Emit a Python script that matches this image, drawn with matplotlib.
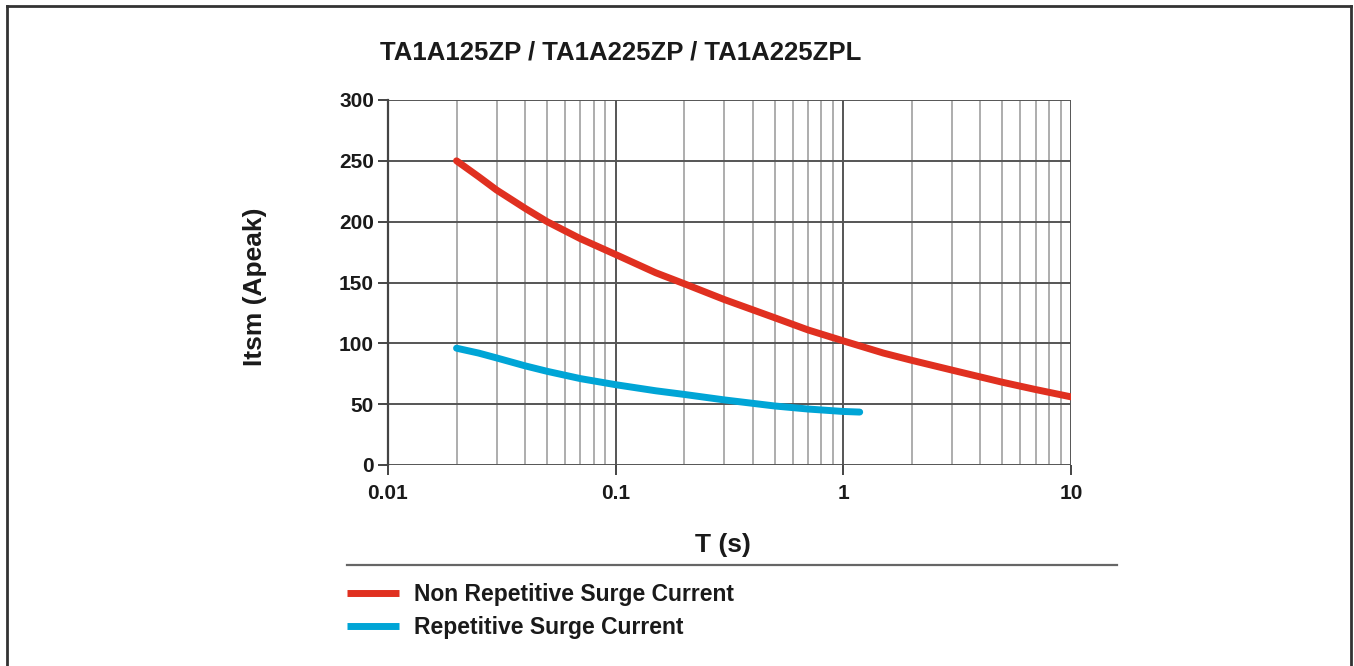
import matplotlib
matplotlib.use("Agg")
import matplotlib.pyplot as plt
from matplotlib.lines import Line2D
from matplotlib.ticker import LogLocator, FixedLocator, NullFormatter

# data
t_non_rep = [0.02, 0.025, 0.03, 0.04, 0.05, 0.07, 0.1, 0.15, 0.2, 0.3, 0.5, 0.7,
             1.0, 1.5, 2.0, 3.0, 5.0, 7.0, 10.0]
i_non_rep = [250, 237, 226, 211, 200, 186, 173, 158, 149, 136, 121, 111,
             102, 92, 86, 78, 68, 62, 56]
t_rep = [0.02, 0.025, 0.03, 0.04, 0.05, 0.07, 0.1, 0.15, 0.2, 0.3, 0.5, 0.7, 1.0, 1.18]
i_rep = [96, 92, 88, 81.5, 77, 71, 66, 61, 58, 53.5, 48.5, 46, 44, 43.5]

y_ticks = [0, 50, 100, 150, 200, 250, 300]
x_ticks = [0.01, 0.1, 1, 10]
x_tick_labels = ["0.01", "0.1", "1", "10"]

title = "TA1A125ZP / TA1A225ZP / TA1A225ZPL"
labels = ["Non Repetitive Surge Current", "Repetitive Surge Current"]
red = "#e03020"
blue = "#00a5d6"

narrow = ["Liberation Sans Narrow", "Liberation Sans", "DejaVu Sans"]
wide = ["Liberation Sans", "DejaVu Sans"]

W, H = 1354, 666
fig = plt.figure(figsize=(W / 100, H / 100), dpi=100)
ax = fig.add_axes([388 / W, 1 - 465 / H, (1071 - 388) / W, (465 - 100) / H])

ax.set_xscale("log")
ax.set_xlim(0.01, 10)
ax.set_ylim(0, 300)

# grid: major dark, minor light
ax.xaxis.set_major_locator(FixedLocator(x_ticks))
ax.xaxis.set_minor_locator(LogLocator(base=10, subs=range(2, 10)))
ax.xaxis.set_minor_formatter(NullFormatter())
ax.set_xticklabels(x_tick_labels)
ax.set_yticks(y_ticks)
ax.grid(True, which="major", color="#555555", lw=1.4)
ax.grid(True, which="minor", axis="x", color="#a0a0a0", lw=1.2)
ax.set_axisbelow(True)

for s in ["top", "right", "bottom"]:
    ax.spines[s].set_visible(False)
ax.spines["left"].set_color("#444444")
ax.spines["left"].set_linewidth(1.6)
ax.tick_params(which="major", length=7, width=1.4, color="#444444", pad=3)
ax.tick_params(axis="x", which="major", pad=7)
ax.tick_params(which="minor", length=0)
for lab in ax.get_xticklabels() + ax.get_yticklabels():
    lab.set_family(narrow)
    lab.set_fontweight("bold")
    lab.set_fontsize(15)
    lab.set_color("#1a1a1a")

l1, = ax.plot(t_non_rep, i_non_rep, color=red, lw=5, solid_capstyle="round",
              solid_joinstyle="round")
l2, = ax.plot(t_rep, i_rep, color=blue, lw=5, solid_capstyle="round",
              solid_joinstyle="round")

fig.text(380 / W, 1 - 52 / H, title, family=wide, fontweight="bold",
         fontsize=18.5, va="center", ha="left", color="#1a1a1a")
fig.text(255 / W, 1 - 287 / H, "Itsm (Apeak)", family=wide, fontweight="bold",
         fontsize=19, rotation=90, va="center", ha="center", color="#1a1a1a")
fig.text(723 / W, 1 - 545 / H, "T (s)", family=wide, fontweight="bold",
         fontsize=19, va="center", ha="center", color="#1a1a1a")

# separator above legend
fig.add_artist(Line2D([347 / W, 1117 / W], [1 - 565 / H, 1 - 565 / H],
                      color="#666666", lw=1.6))

# outer frame
frame_kw = dict(color="#333333", lw=2)
fig.add_artist(Line2D([7 / W, 1351 / W], [1 - 6 / H, 1 - 6 / H], **frame_kw))
fig.add_artist(Line2D([7 / W, 7 / W], [0, 1 - 6 / H], **frame_kw))
fig.add_artist(Line2D([1351 / W, 1351 / W], [0, 1 - 6 / H], **frame_kw))

leg = fig.legend([l1, l2], labels, loc="upper left",
                 bbox_to_anchor=(326 / W, 1 - 562 / H), frameon=False,
                 handlelength=2.3, handletextpad=0.62, labelspacing=0.45,
                 prop=dict(family=narrow, weight="bold", size=16.5))
for txt in leg.get_texts():
    txt.set_color("#1a1a1a")
for h in leg.legend_handles:
    h.set_linewidth(5)
    h.set_solid_capstyle("butt")

fig.savefig("out.png", dpi=100)
